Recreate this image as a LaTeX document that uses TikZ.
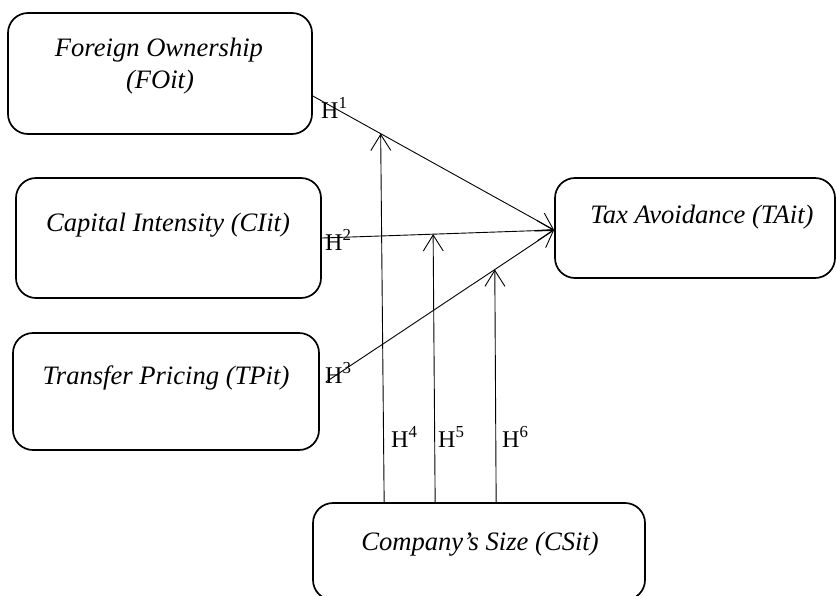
\documentclass[tikz,border=0pt]{standalone}
\usepackage{fontspec}
\setmainfont{Liberation Serif}
\usetikzlibrary{arrows.meta,calc}
\begin{document}
\begin{tikzpicture}[x=1pt,y=-1pt,
  box/.style={draw, line width=1.7pt, rounded corners=20pt, inner sep=0pt},
  txt/.style={font=\fontsize{26.6}{30}\selectfont\itshape, anchor=base, inner sep=0pt},
  hl/.style={font=\fontsize{24}{28}\selectfont, anchor=base west, inner sep=0pt},
  arr/.style={line width=0.9pt, -{Straight Barb[length=16pt,width=20pt]}}]
\useasboundingbox (0,0) rectangle (837,595);
\clip (0,0) rectangle (837,595);
% boxes
\node[box, minimum width=304pt, minimum height=121pt] (fo) at (160,73.5) {};
\node[box, minimum width=305pt, minimum height=120pt] (ci) at (168.5,238) {};
\node[box, minimum width=306pt, minimum height=117pt] (tp) at (166,391.5) {};
\node[box, minimum width=280pt, minimum height=100pt] (ta) at (695,228) {};
\node[box, minimum width=332pt, minimum height=97pt] (cs) at (479,551.5) {};
% texts
\node[txt] (fot1) at (159,56) {Foreign Ownership};
\node[txt] (fot2) at (160,88) {(FOit)};
\node[txt] (cit) at (168,231) {Capital Intensity (CIit)};
\node[txt] (tpt) at (166,384) {Transfer Pricing (TPit)};
\node[txt] (tat) at (702,223) {Tax Avoidance (TAit)};
\node[txt] (cst) at (480,550) {Company’s Size (CSit)};
% main arrows
\coordinate (tain) at ($(ta.west)+(0,2)$);
\draw[arr] ($(fo.east)+(0,22.5)$) -- coordinate[pos=0.281] (m1) (tain);
\draw[arr] (ci.east) -- coordinate[pos=0.479] (m2) (tain);
\draw[arr] ($(tp.east)+(6,-9.5)$) -- coordinate[pos=0.74] (m3) (tain);
% moderating arrows
\draw[arr] ($(cs.north west)+(72,0)$) -- (m1);
\draw[arr] ($(cs.north west)+(123,0)$) -- (m2);
\draw[arr] ($(cs.north west)+(184,0)$) -- (m3);
% labels
\node[hl] (h1) at (321,118) {H\textsuperscript{1}};
\node[hl] (h2) at (325,250) {H\textsuperscript{2}};
\node[hl] (h3) at (325,383) {H\textsuperscript{3}};
\node[hl] (h4) at (391,447) {H\textsuperscript{4}};
\node[hl] (h5) at (438,447) {H\textsuperscript{5}};
\node[hl] (h6) at (502,447) {H\textsuperscript{6}};
\end{tikzpicture}
\end{document}
